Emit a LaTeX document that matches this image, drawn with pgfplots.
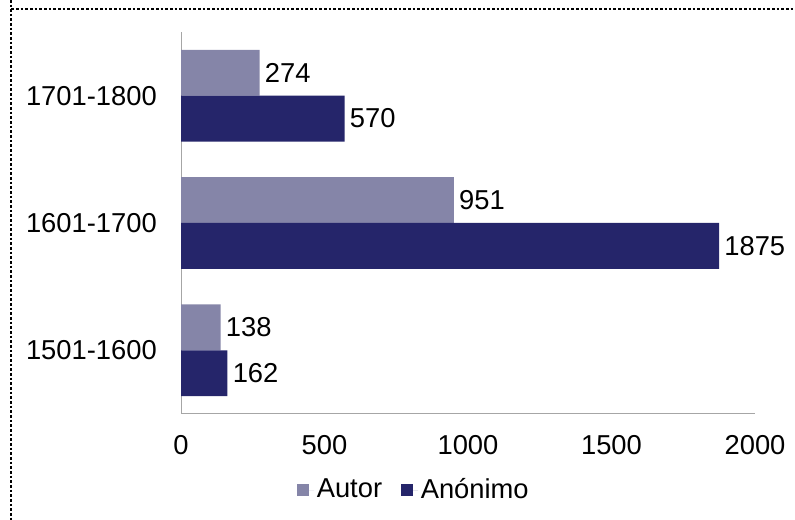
\documentclass[border=0pt]{standalone}
\usepackage{pgfplots}
\pgfplotsset{compat=1.18}
\usepackage{fontspec}
\setmainfont{Liberation Sans}
\definecolor{autor}{RGB}{133,133,168}
\definecolor{anon}{RGB}{37,37,106}
\definecolor{axgray}{RGB}{166,166,166}
\begin{document}
\fontsize{20.5pt}{24pt}\selectfont
\begin{tikzpicture}
\path[use as bounding box] (0,0) rectangle (596.25pt,390pt);
\draw[line width=1.9pt, dash pattern=on 1.9pt off 1.6pt] (8.25pt,390pt) -- (8.25pt,383.25pt) -- (596.25pt,383.25pt);
\draw[line width=1.9pt, dash pattern=on 1.9pt off 1.6pt] (8.25pt,383.25pt) -- (8.25pt,0pt);
\begin{axis}[
  at={(135.75pt,79.5pt)}, anchor=south west,
  scale only axis, width=430.5pt, height=286.5pt,
  xbar, bar width=0.36,
  xmin=0, xmax=2000, ymin=-0.5, ymax=2.5,
  xtick={0,500,1000,1500,2000},
  ytick={0,1,2}, yticklabels={1501-1600,1601-1700,1701-1800},
  /pgf/number format/1000 sep={},
  /pgf/number format/assume math mode=true,
  major tick length=0pt,
  axis lines*=left,
  axis line style={draw=axgray, line width=0.75pt, -},
  tick label style={font=\fontsize{20.5pt}{24pt}\selectfont, inner sep=0pt},
  yticklabel style={anchor=east, xshift=-18pt},
  xticklabel style={anchor=north, yshift=-16pt},
  nodes near coords,
  nodes near coords style={anchor=west, inner sep=0pt, xshift=3.75pt, font=\fontsize{20.5pt}{24pt}\selectfont, black},
  point meta=x,
  legend style={at={(0.406,-0.2)}, anchor=center, draw=none, fill=none,
     font=\fontsize{20.5pt}{24pt}\selectfont, legend columns=2,
     /tikz/every even column/.append style={column sep=12pt}},
  legend image code/.code={\fill[#1,draw=none] (0pt,-4.5pt) rectangle (9.5pt,5pt); \path (0pt,0pt) -- (13pt,0pt);},
]
\addplot[fill=autor, draw=none, bar shift=0.18] coordinates {(274,2) (951,1) (138,0)};
\addplot[fill=anon, draw=none, bar shift=-0.18] coordinates {(570,2) (1875,1) (162,0)};
\legend{Autor,Anónimo}
\end{axis}
\end{tikzpicture}
\end{document}
